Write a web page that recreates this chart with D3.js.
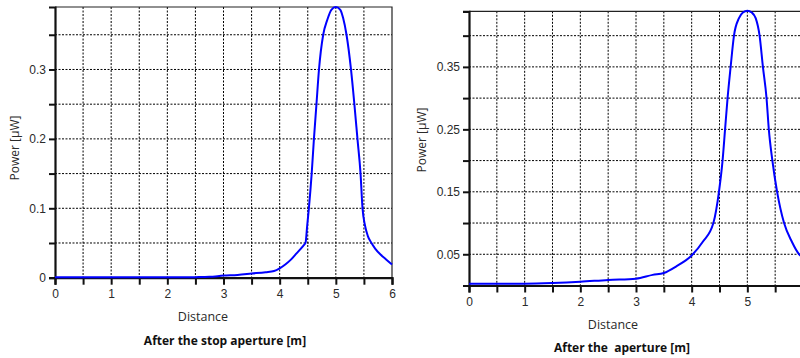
<!DOCTYPE html>
<html>
<head>
<meta charset="utf-8">
<script src="https://cdn.jsdelivr.net/npm/d3@7"></script>
<style>
  body { margin: 0; background: #fff; }
  svg { display: block; font-family: "Open Sans", "Noto Sans", sans-serif; }
  .tick text { fill: #2a2a2a; font-size: 12px; }
  .grid line { stroke: #000; stroke-width: 1; stroke-dasharray: 2,1.5; }
</style>
</head>
<body>
<svg id="chart" width="800" height="358"></svg>
<script>
// Power along the distance, two measurements

// left panel: after the stop aperture
const stopDistance = [0, 0.5, 1, 1.5, 2, 2.5, 2.75, 3, 3.25, 3.5, 3.75, 3.9, 4, 4.1, 4.2, 4.3, 4.42, 4.46,
    4.49, 4.52, 4.57, 4.61, 4.655, 4.7, 4.775, 4.85, 4.92, 5, 5.08, 5.13, 5.19, 5.27, 5.33, 5.385,
    5.44, 5.475, 5.52, 5.57, 5.635, 5.7, 5.8, 5.9, 6];
const stopPower = [0.0005, 0.0005, 0.0005, 0.0005, 0.0005, 0.0008, 0.0012, 0.003, 0.004, 0.006, 0.008, 0.0097, 0.0135, 0.019, 0.026, 0.035, 0.046, 0.05,
    0.075, 0.1, 0.15, 0.2, 0.25, 0.3, 0.35, 0.372, 0.386, 0.39, 0.386, 0.374, 0.35, 0.3, 0.25, 0.2,
    0.15, 0.1, 0.075, 0.06, 0.05, 0.042, 0.033, 0.026, 0.019];

// right panel: after the aperture
const apDistance = [0, 0.5, 1, 1.5, 2, 2.5, 3, 3.3, 3.5, 3.73, 4, 4.2, 4.39, 4.49, 4.555, 4.6, 4.645, 4.7,
    4.76, 4.85, 4.92, 5, 5.08, 5.15, 5.22, 5.28, 5.345, 5.386, 5.45, 5.535, 5.66, 5.8, 5.93, 6];
const apPower = [0.003, 0.003, 0.003, 0.004, 0.006, 0.009, 0.011, 0.017, 0.02, 0.031, 0.048, 0.07, 0.1, 0.15, 0.2, 0.25, 0.3, 0.35,
    0.4, 0.428, 0.437, 0.44, 0.437, 0.428, 0.4, 0.35, 0.3, 0.25, 0.2, 0.15, 0.1, 0.07, 0.05, 0.045];

const xTicks = [0, 1, 2, 3, 4, 5, 6];
const stopYLabels = [0, 0.1, 0.2, 0.3];
const apYLabels = [0.05, 0.15, 0.25, 0.35];

const svg = d3.select("#chart");

function drawPanel(opts) {
    const g = svg.append("g");
    const x = d3.scaleLinear().domain([0, 6]).range([opts.left, opts.right]);
    const y = d3.scaleLinear().domain([0, opts.yMax]).range([opts.bottom, opts.top]);

    const halfSteps = d3.range(0, 6.01, 0.5);
    const yMinor = d3.range(0, opts.yMax, 0.05).map(v => +v.toFixed(2));

    // dotted grid
    const grid = g.append("g").attr("class", "grid");
    grid.selectAll(".gx").data(halfSteps.slice(1, -1)).enter().append("line")
        .attr("x1", d => x(d)).attr("x2", d => x(d))
        .attr("y1", opts.top).attr("y2", opts.bottom);
    grid.selectAll(".gy").data(yMinor.slice(1)).enter().append("line")
        .attr("x1", opts.left).attr("x2", opts.right)
        .attr("y1", d => y(d)).attr("y2", d => y(d));

    // top and right border
    g.append("path")
        .attr("d", `M${opts.left},${opts.top}H${opts.right}V${opts.bottom}`)
        .attr("fill", "none").attr("stroke", "#222").attr("stroke-width", 1.2);

    // x axis
    const xAxis = g.append("g")
        .attr("transform", `translate(0,${opts.bottom})`)
        .call(d3.axisBottom(x).tickValues(halfSteps).tickSize(7)
            .tickFormat(d => xTicks.includes(d) ? d : ""));
    xAxis.select(".domain").attr("stroke", "#111").attr("stroke-width", 2.2);
    xAxis.selectAll(".tick line").attr("stroke", "#111").attr("stroke-width", 2);
    xAxis.selectAll(".tick text").attr("dy", opts.xLabelDy);

    // y axis
    const yAxis = g.append("g")
        .attr("transform", `translate(${opts.left},0)`)
        .call(d3.axisLeft(y).tickValues(yMinor).tickSize(6)
            .tickFormat(d => opts.yLabels.some(v => Math.abs(v - d) < 1e-6) ? d : ""));
    yAxis.select(".domain").attr("stroke", "#111").attr("stroke-width", 2.2);
    yAxis.selectAll(".tick line").attr("stroke", "#111").attr("stroke-width", 2);
    yAxis.selectAll(".tick text").attr("x", -9);

    // curve
    const line = d3.line()
        .x(d => x(d[0]))
        .y(d => y(d[1]))
        .curve(d3.curveMonotoneX);
    g.append("path")
        .datum(d3.zip(opts.dist, opts.power))
        .attr("d", line)
        .attr("fill", "none")
        .attr("stroke", "#0000ff")
        .attr("stroke-width", 2);

    // labels
    g.append("text")
        .attr("transform", `translate(${opts.yTitleX},${opts.yTitleY}) rotate(-90)`)
        .attr("text-anchor", "middle").attr("dominant-baseline", "middle")
        .attr("font-size", 12).attr("fill", "#2a2a2a")
        .text("Power [µW]");
    g.append("text")
        .attr("x", opts.xTitleX).attr("y", opts.xTitleY)
        .attr("text-anchor", "middle").attr("dominant-baseline", "middle")
        .attr("font-size", 12.5).attr("fill", "#2a2a2a")
        .text("Distance");
    g.append("text")
        .attr("x", opts.captionX).attr("y", opts.captionY)
        .attr("text-anchor", "middle").attr("dominant-baseline", "middle")
        .attr("font-size", 12).attr("font-weight", "bold").attr("fill", "#111")
        .attr("xml:space", "preserve")
        .text(opts.caption);
}

drawPanel({
    left: 55, right: 392, top: 7, bottom: 277.7, yMax: 0.39,
    dist: stopDistance, power: stopPower, yLabels: stopYLabels,
    xLabelDy: "0.85em",
    yTitleX: 16, yTitleY: 148,
    xTitleX: 203, xTitleY: 318,
    captionX: 225, captionY: 342,
    caption: "After the stop aperture [m]"
});

drawPanel({
    left: 469, right: 803, top: 11.3, bottom: 285.5, yMax: 0.439,
    dist: apDistance, power: apPower, yLabels: apYLabels,
    xLabelDy: "0.85em",
    yTitleX: 423, yTitleY: 140,
    xTitleX: 613, xTitleY: 326,
    captionX: 622, captionY: 349,
    caption: "After the  aperture [m]"
});
</script>
</body>
</html>
